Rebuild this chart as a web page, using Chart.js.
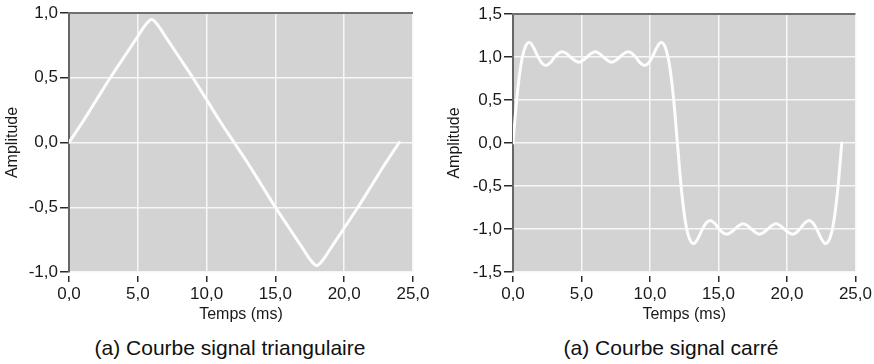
<!DOCTYPE html>
<html>
<head>
<meta charset="utf-8">
<script src="https://cdn.jsdelivr.net/npm/chart.js@4.4.1/dist/chart.umd.min.js"></script>
<style>
html, body { margin: 0; padding: 0; background: #fff; }
body { width: 874px; height: 364px; position: relative; overflow: hidden; }
.box { position: absolute; top: 0; width: 437px; height: 330px; }
.cap { position: absolute; top: 336px; font: 21px 'Liberation Sans', Arial, sans-serif; line-height: 24px;
       color: #111; white-space: nowrap; transform: translateX(-50%); }
</style>
</head>
<body>
<div class="box" style="left:0"><canvas id="triangle" width="437" height="330"></canvas></div>
<div class="box" style="left:437px"><canvas id="carre" width="437" height="330"></canvas></div>
<div class="cap" style="left:230px">(a) Courbe signal triangulaire</div>
<div class="cap" style="left:671px">(a) Courbe signal carré</div>
<script>
// données
const tempsTri = [0, 1, 2, 3, 4, 5, 5.5, 6, 6.5, 7, 8, 9, 10, 11, 12,
                  13, 14, 15, 16, 17, 17.5, 18, 18.5, 19, 20, 21, 22, 23, 24];
const ampTri = [0, 0.16, 0.33, 0.5, 0.66, 0.82, 0.9, 0.95, 0.9, 0.82, 0.66, 0.5, 0.33, 0.16, 0,
                -0.16, -0.33, -0.5, -0.66, -0.82, -0.9, -0.95, -0.9, -0.82, -0.66, -0.5, -0.33, -0.16, 0];

const tempsCarre = [0, 0.3, 0.6, 0.9, 1.2, 1.5, 1.8, 2.1, 2.4, 2.7, 3.0, 3.3, 3.6, 3.9, 4.2, 4.5, 4.8,
                    5.1, 5.4, 5.7, 6.0, 6.3, 6.6, 6.9, 7.2, 7.5, 7.8, 8.1, 8.4, 8.7, 9.0, 9.3, 9.6,
                    9.9, 10.2, 10.5, 10.8, 11.1, 11.4, 11.7, 12.0,
                    12.3, 12.6, 12.9, 13.2, 13.5, 13.8, 14.1, 14.4, 14.7, 15.0, 15.3, 15.6, 15.9, 16.2,
                    16.5, 16.8, 17.1, 17.4, 17.7, 18.0, 18.3, 18.6, 18.9, 19.2, 19.5, 19.8, 20.1, 20.4,
                    20.7, 21.0, 21.3, 21.6, 21.9, 22.2, 22.5, 22.8, 23.1, 23.4, 23.7, 24.0];
const ampCarre = [0, 0.55, 0.93, 1.12, 1.17, 1.11, 1.01, 0.93, 0.90, 0.93, 0.99, 1.04, 1.06, 1.04, 1.00, 0.96, 0.94,
                  0.96, 1.00, 1.04, 1.06, 1.04, 1.00, 0.96, 0.94, 0.96, 1.00, 1.04, 1.06, 1.04, 0.99, 0.93, 0.90,
                  0.93, 1.01, 1.11, 1.17, 1.12, 0.93, 0.55, 0,
                  -0.55, -0.93, -1.12, -1.17, -1.11, -1.01, -0.93, -0.90, -0.93, -0.99, -1.04, -1.06, -1.04, -1.00,
                  -0.96, -0.94, -0.96, -1.00, -1.04, -1.06, -1.04, -1.00, -0.96, -0.94, -0.96, -1.00, -1.04, -1.06,
                  -1.04, -0.99, -0.93, -0.90, -0.93, -1.01, -1.11, -1.17, -1.12, -0.93, -0.55, 0];

const policeAxe = "'Liberation Sans', Arial, sans-serif";
const virgule = v => v.toFixed(1).replace('.', ',');

// fond gris et bord supérieur foncé de la zone de tracé
const cadre = {
    id: 'cadre',
    beforeDraw(chart) {
        const { ctx, chartArea: a } = chart;
        ctx.save();
        ctx.fillStyle = '#d3d3d3';
        ctx.fillRect(a.left, a.top, a.right - a.left, a.bottom - a.top);
        ctx.restore();
    },
    beforeDatasetsDraw(chart) {
        const { ctx, chartArea: a } = chart;
        ctx.save();
        ctx.strokeStyle = '#6f6f6f';
        ctx.lineWidth = 2;
        ctx.beginPath();
        ctx.moveTo(a.left - 1, a.top);
        ctx.lineTo(a.right, a.top);
        ctx.stroke();
        ctx.restore();
    }
};

function creerGraphe (id, temps, amp, yMax, largeurY, decalTitre, padding, lissage) {
    return new Chart(document.getElementById(id), {
        type: 'line',
        data: {
            datasets: [{
                data: temps.map((t, i) => ({ x: t, y: amp[i] })),
                borderColor: '#fdfdfd',
                borderWidth: 3,
                borderCapStyle: 'round',
                pointRadius: 0,
                tension: 0.35,
                cubicInterpolationMode: lissage,
                fill: false
            }]
        },
        options: {
            responsive: false,
            animation: false,
            layout: { padding: padding },
            plugins: { legend: { display: false }, tooltip: { enabled: false } },
            scales: {
                x: {
                    type: 'linear',
                    min: 0, max: 25,
                    afterFit: s => { s.height = 58; },
                    ticks: { stepSize: 5, callback: virgule, color: '#1a1a1a', padding: 2, maxRotation: 0,
                             font: { family: policeAxe, size: 17 } },
                    grid: {
                        color: c => c.tick && c.tick.value === 0 ? 'rgba(0,0,0,0)' : '#f7f7f7',
                        lineWidth: 1.5,
                        tickLength: 10,
                        tickColor: '#2a2a2a',
                        tickWidth: 1.5,
                        tickBorderDash: [0, 4, 6, 20]
                    },
                    border: { display: false },
                    title: { display: true, text: 'Temps (ms)', color: '#1a1a1a', padding: { top: 0, bottom: 6 },
                             font: { family: policeAxe, size: 16 } }
                },
                y: {
                    min: -yMax, max: yMax,
                    afterFit: s => { s.width = largeurY; },
                    ticks: { stepSize: 0.5, callback: virgule, color: '#1a1a1a', padding: 2,
                             font: { family: policeAxe, size: 17 } },
                    grid: {
                        color: c => c.tick && c.tick.value === yMax ? 'rgba(0,0,0,0)' : '#f7f7f7',
                        lineWidth: 1.5,
                        tickLength: 9,
                        tickColor: '#2a2a2a',
                        tickWidth: 1.5
                    },
                    border: { display: true, color: '#666666', width: 2 },
                    title: { display: true, text: 'Amplitude', color: '#1a1a1a', padding: { top: decalTitre, bottom: 0 },
                             font: { family: policeAxe, size: 16 } }
                }
            }
        },
        plugins: [cadre]
    });
}

creerGraphe('triangle', tempsTri, ampTri, 1, 69, 3, { left: 0, top: 13, right: 24, bottom: 0 }, 'monotone');
creerGraphe('carre', tempsCarre, ampCarre, 1.5, 76, 8, { left: 0, top: 14, right: 17, bottom: 0 }, 'default');
</script>
</body>
</html>
